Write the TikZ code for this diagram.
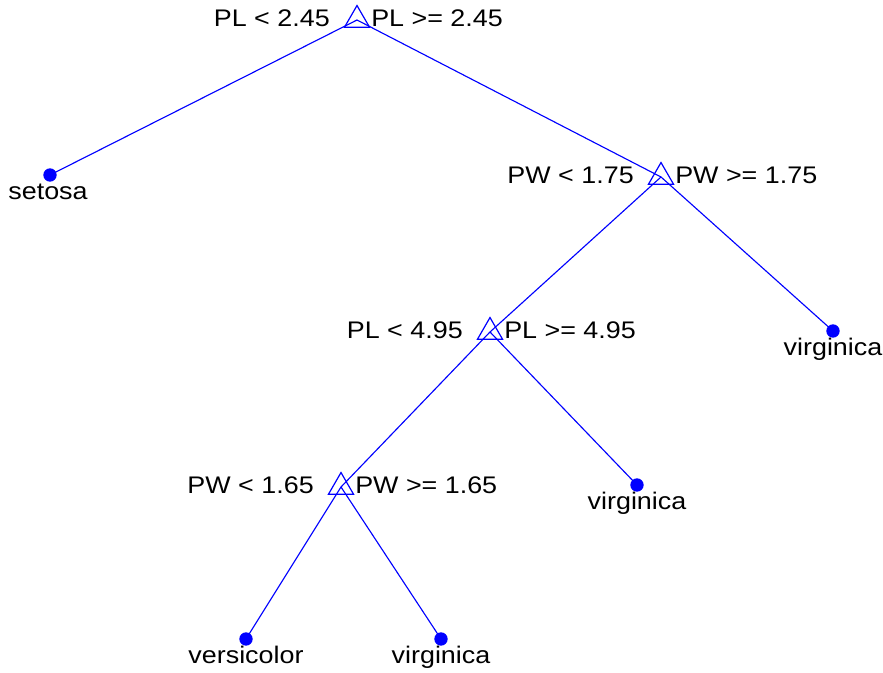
\documentclass[tikz,border=0pt]{standalone}
\usepackage{fontspec}
\setmainfont{Liberation Sans}[FakeStretch=1.12]
\usetikzlibrary{shapes.geometric}
\begin{document}
\begin{tikzpicture}[x=0.75pt,y=-0.75pt,
		split/.style={draw=blue,line width=0.9pt,regular polygon,regular polygon sides=3,minimum size=21.7pt,inner sep=0pt},
		leaf/.style={circle,fill=blue,minimum size=10pt,inner sep=0pt},
		edge/.style={blue,line width=0.85pt},
		lbl/.style={font=\fontsize{18pt}{21pt}\selectfont,inner sep=0pt}]
		\useasboundingbox (0,0) rectangle (883,673);
		% split nodes
		\node[split] (pl245) at (357,20) {};
		\node[split] (pw175) at (661,177) {};
		\node[split] (pl495) at (490,332) {};
		\node[split] (pw165) at (341,487) {};
		% leaves
		\node[leaf] (setosa) at (50,175) {};
		\node[leaf] (virgA) at (833,331) {};
		\node[leaf] (virgB) at (637,485) {};
		\node[leaf] (versi) at (246,639) {};
		\node[leaf] (virgC) at (441,639) {};
		% branches
		\draw[edge] (pl245.center) -- (setosa.center);
		\draw[edge] (pl245.center) -- (pw175.center);
		\draw[edge] (pw175.center) -- (pl495.center);
		\draw[edge] (pw175.center) -- (virgA.center);
		\draw[edge] (pl495.center) -- (pw165.center);
		\draw[edge] (pl495.center) -- (virgB.center);
		\draw[edge] (pw165.center) -- (versi.center);
		\draw[edge] (pw165.center) -- (virgC.center);
		% split rules
		\node[lbl,anchor=base east] (pl245l) at ([shift={(-27,7)}]pl245.center) {PL < 2.45};
		\node[lbl,anchor=base west] (pl245r) at ([shift={(14,7)}]pl245.center) {PL >= 2.45};
		\node[lbl,anchor=base east] (pw175l) at ([shift={(-27,7)}]pw175.center) {PW < 1.75};
		\node[lbl,anchor=base west] (pw175r) at ([shift={(14,7)}]pw175.center) {PW >= 1.75};
		\node[lbl,anchor=base east] (pl495l) at ([shift={(-27,7)}]pl495.center) {PL < 4.95};
		\node[lbl,anchor=base west] (pl495r) at ([shift={(14,7)}]pl495.center) {PL >= 4.95};
		\node[lbl,anchor=base east] (pw165l) at ([shift={(-27,7)}]pw165.center) {PW < 1.65};
		\node[lbl,anchor=base west] (pw165r) at ([shift={(14,7)}]pw165.center) {PW >= 1.65};
		% class names
		\node[lbl,anchor=base] (setosal) at ([shift={(-2,25)}]setosa.center) {setosa};
		\node[lbl,anchor=base] (virgAl) at ([shift={(0,25)}]virgA.center) {virginica};
		\node[lbl,anchor=base] (virgBl) at ([shift={(0,25)}]virgB.center) {virginica};
		\node[lbl,anchor=base] (versil) at ([shift={(0,25)}]versi.center) {versicolor};
		\node[lbl,anchor=base] (virgCl) at ([shift={(0,25)}]virgC.center) {virginica};
\end{tikzpicture}
\end{document}
